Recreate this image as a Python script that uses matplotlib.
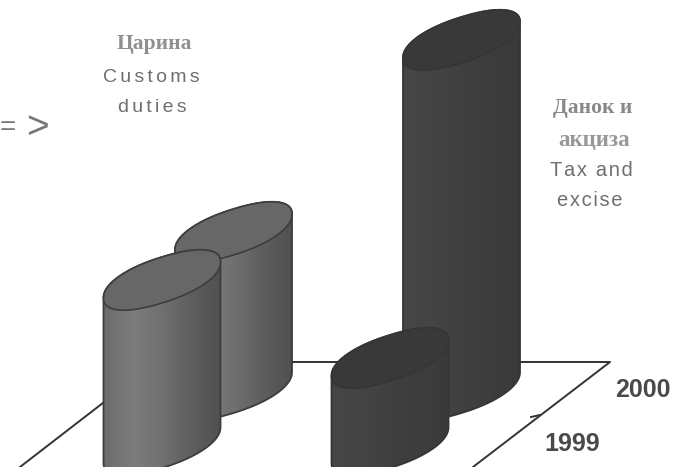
import numpy as np
import matplotlib
matplotlib.use("Agg")
import matplotlib.pyplot as plt
from matplotlib.colors import LinearSegmentedColormap
from matplotlib.patches import Polygon

years = ["1999", "2000"]
categories = ["Customs duties", "Tax and excise"]
# no value axis in the picture, so heights are read as relative units
customs = [165, 158]
tax = [87, 350]

HAIR = "\u200a"


def spaced(s, n=2):
    return (HAIR * n).join(s)


def spow(v, p=0.9):
    # a bit rounder than a true ellipse, the scan has fuller tops
    return np.sign(v) * np.abs(v) ** p


fig = plt.figure(figsize=(6.83, 4.67), dpi=100)
ax = fig.add_axes([0, 0, 1, 1])
ax.set_xlim(0, 683)
ax.set_ylim(467, 0)
ax.axis("off")

light = LinearSegmentedColormap.from_list("light", ["#6c6c6c", "#7c7c7c", "#707070", "#5e5e5e", "#505050"])
dark = LinearSegmentedColormap.from_list("dark", ["#464646", "#444444", "#404040", "#3d3d3d", "#3a3a3a"])
cmaps = [light, dark]
tops = ["#676767", "#393939"]
edges = ["#3d3d3d", "#353535"]

# floor of the chart
floor_x = [20, 156, 610, 473]
floor_y = [467, 362, 362, 467]
ax.plot(floor_x, floor_y, color="#333333", lw=1.4, zorder=1)
ax.plot([540, 531], [415, 417], color="#333333", lw=1.4, zorder=1)


def cylinder(i, j, value, z):
    cx = 162 + 228 * i + 71.5 * j
    base = 445 - 55 * j
    top = base - value
    w, sl, b = 58.5, 18, 23

    def ring(t, y0):
        c, s = spow(np.cos(t)), spow(np.sin(t))
        return cx + w * c, y0 - sl * c - b * s

    t = np.linspace(0, 2 * np.pi, 300)
    ex, ey = ring(t, top)
    fx, fy = ring(np.linspace(np.pi, 2 * np.pi, 150), base)
    bx, by = ring(np.linspace(0, np.pi, 150), top)
    outline = np.column_stack([np.r_[fx, bx], np.r_[fy, by]])
    body = Polygon(outline, closed=True, fc="none", ec=edges[i], lw=1.3, zorder=z + 0.2)
    ax.add_patch(body)
    grad = np.linspace(0, 1, 256).reshape(1, -1)
    im = ax.imshow(grad, cmap=cmaps[i], extent=[cx - w, cx + w, base + 40, top - 40],
                   aspect="auto", zorder=z, interpolation="bilinear")
    im.set_clip_path(body)
    ax.add_patch(Polygon(np.column_stack([ex, ey]), closed=True, fc=tops[i], ec=edges[i],
                         lw=1.2, zorder=z + 0.3))


# back row first, then front row
cylinder(0, 1, customs[1], 2)
cylinder(1, 1, tax[1], 3)
cylinder(0, 0, customs[0], 4)
cylinder(1, 0, tax[0], 5)
ax.set_xlim(0, 683)
ax.set_ylim(467, 0)

serif = "Liberation Serif"
sans = "Liberation Sans"
grey = "#6f6f6f"
ax.text(154, 44, "Царина", family=serif, weight="bold", fontsize=15.5, color="#909090", ha="center", va="center")
ax.text(151, 78, spaced("Customs"), family=sans, fontsize=14, color=grey, ha="center", va="center")
ax.text(152, 107, spaced("duties"), family=sans, fontsize=14, color=grey, ha="center", va="center")
ax.text(0, 128, "=", family=sans, fontsize=20, color="#777777", ha="left", va="center")
ax.text(37, 128, ">", family=sans, fontsize=28, color="#777777", ha="center", va="center")

ax.text(593, 108, "Данок и", family=serif, weight="bold", fontsize=15.5, color="#888888", ha="center", va="center")
ax.text(594, 141, "акциза", family=serif, weight="bold", fontsize=16.5, color="#989898", ha="center", va="center")
ax.text(591, 170, spaced("Tax and", 1), family=sans, fontsize=14.5, color=grey, ha="center", va="center")
ax.text(590, 201, spaced("excise", 1), family=sans, fontsize=14.5, color=grey, ha="center", va="center")

ax.text(643, 390, years[1], family=sans, weight="bold", fontsize=18, color="#4a4a4a", ha="center", va="center")
ax.text(572, 444, years[0], family=sans, weight="bold", fontsize=18, color="#4a4a4a", ha="center", va="center")

fig.savefig("out.png", dpi=100)
